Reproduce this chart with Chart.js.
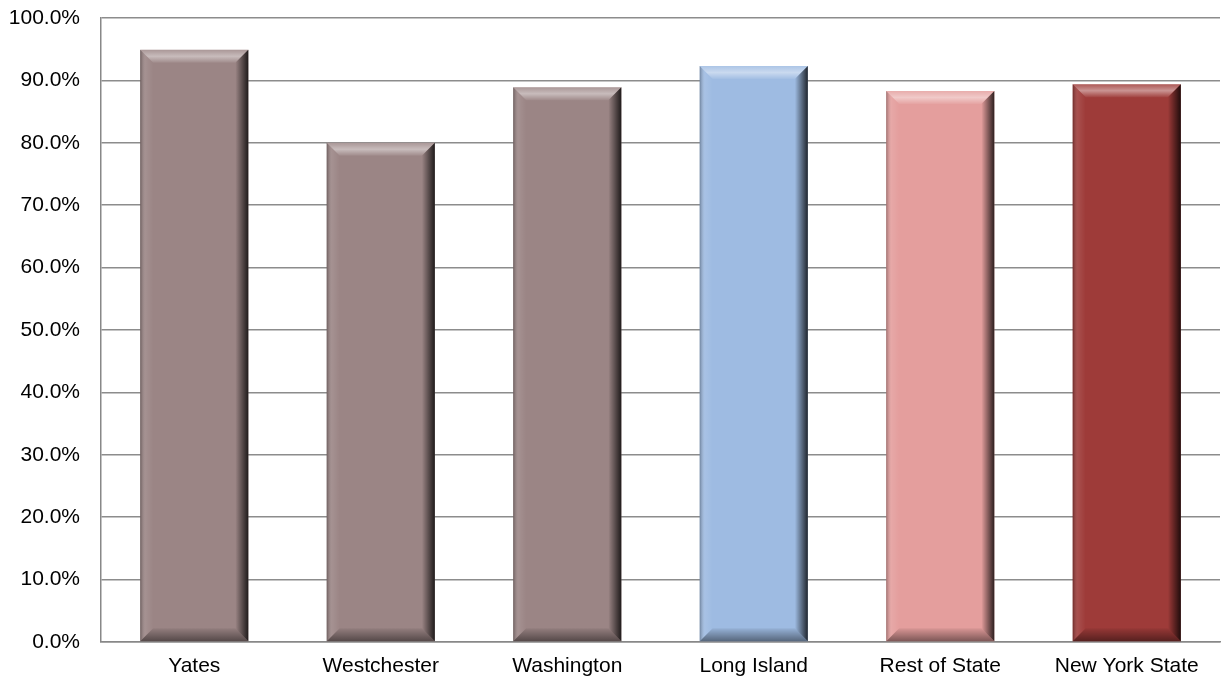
<!DOCTYPE html>
<html>
<head>
<meta charset="utf-8">
<script src="https://cdn.jsdelivr.net/npm/chart.js@4/dist/chart.umd.min.js"></script>
<style>
  html, body { margin: 0; padding: 0; background: #fff; }
  #wrap { width: 1231px; height: 679px; position: relative; }
</style>
</head>
<body>
<div id="wrap"><canvas id="chart"></canvas></div>
<script>
const regions = ["Yates", "Westchester", "Washington", "Long Island", "Rest of State", "New York State"];
const rates = [94.9, 80.0, 88.9, 92.3, 88.3, 89.4];
const barColors = ["#9b8585", "#9b8585", "#9b8585", "#9ebbe2", "#e49e9d", "#9e3b39"];

// draws the bevelled edges on top of each bar
const bevel = {
  id: "bevel",
  afterDatasetsDraw(chart) {
    const ctx = chart.ctx;
    const meta = chart.getDatasetMeta(0);
    meta.data.forEach((bar) => {
      const l = bar.x - bar.width / 2, r = bar.x + bar.width / 2;
      const t = bar.y, btm = bar.base;
      const b = 13;
      ctx.save();
      // top
      let g = ctx.createLinearGradient(0, t, 0, t + b);
      g.addColorStop(0, "rgba(255,255,255,0.15)");
      g.addColorStop(0.5, "rgba(255,255,255,0.45)");
      g.addColorStop(1, "rgba(255,255,255,0.05)");
      ctx.fillStyle = g;
      ctx.beginPath();
      ctx.moveTo(l, t); ctx.lineTo(r, t); ctx.lineTo(r - b, t + b); ctx.lineTo(l + b, t + b);
      ctx.closePath(); ctx.fill();
      // bottom
      g = ctx.createLinearGradient(0, btm - b, 0, btm);
      g.addColorStop(0, "rgba(0,0,0,0.05)");
      g.addColorStop(1, "rgba(0,0,0,0.45)");
      ctx.fillStyle = g;
      ctx.beginPath();
      ctx.moveTo(l, btm); ctx.lineTo(r, btm); ctx.lineTo(r - b, btm - b); ctx.lineTo(l + b, btm - b);
      ctx.closePath(); ctx.fill();
      // left
      g = ctx.createLinearGradient(l, 0, l + b, 0);
      g.addColorStop(0, "rgba(0,0,0,0.3)");
      g.addColorStop(0.4, "rgba(255,255,255,0.1)");
      g.addColorStop(1, "rgba(255,255,255,0)");
      ctx.fillStyle = g;
      ctx.beginPath();
      ctx.moveTo(l, t); ctx.lineTo(l + b, t + b); ctx.lineTo(l + b, btm - b); ctx.lineTo(l, btm);
      ctx.closePath(); ctx.fill();
      // right
      g = ctx.createLinearGradient(r - b, 0, r, 0);
      g.addColorStop(0, "rgba(0,0,0,0)");
      g.addColorStop(1, "rgba(0,0,0,0.8)");
      ctx.fillStyle = g;
      ctx.beginPath();
      ctx.moveTo(r, t); ctx.lineTo(r - b, t + b); ctx.lineTo(r - b, btm - b); ctx.lineTo(r, btm);
      ctx.closePath(); ctx.fill();
      ctx.restore();
    });
  }
};

new Chart(document.getElementById("chart"), {
  type: "bar",
  data: {
    labels: regions,
    datasets: [{
      data: rates,
      backgroundColor: barColors,
      borderWidth: 0,
      categoryPercentage: 1,
      barPercentage: 0.58
    }]
  },
  options: {
    responsive: true,
    maintainAspectRatio: false,
    animation: false,
    layout: { padding: { top: 18, right: 11, left: 0, bottom: 0 } },
    plugins: { legend: { display: false }, tooltip: { enabled: false } },
    scales: {
      x: {
        grid: { display: false, drawTicks: false },
        border: { color: "#888", width: 1.5 },
        ticks: { color: "#000", font: { family: "Liberation Sans, Arial", size: 21 }, padding: 12, maxRotation: 0 },
        afterFit: (scale) => { scale.height = 37; scale.paddingLeft = 0; scale.paddingRight = 0; }
      },
      y: {
        min: 0, max: 100,
        grid: { color: "#8c8c8c", lineWidth: 1.5, drawTicks: false },
        border: { color: "#888", width: 1.5 },
        ticks: {
          stepSize: 10, color: "#000", padding: 21,
          font: { family: "Liberation Sans, Arial", size: 21 },
          callback: (v) => v.toFixed(1) + "%"
        },
        afterFit: (scale) => { scale.width = 101; scale.paddingTop = 0; scale.paddingBottom = 0; }
      }
    }
  },
  plugins: [bevel]
});
</script>
</body>
</html>
